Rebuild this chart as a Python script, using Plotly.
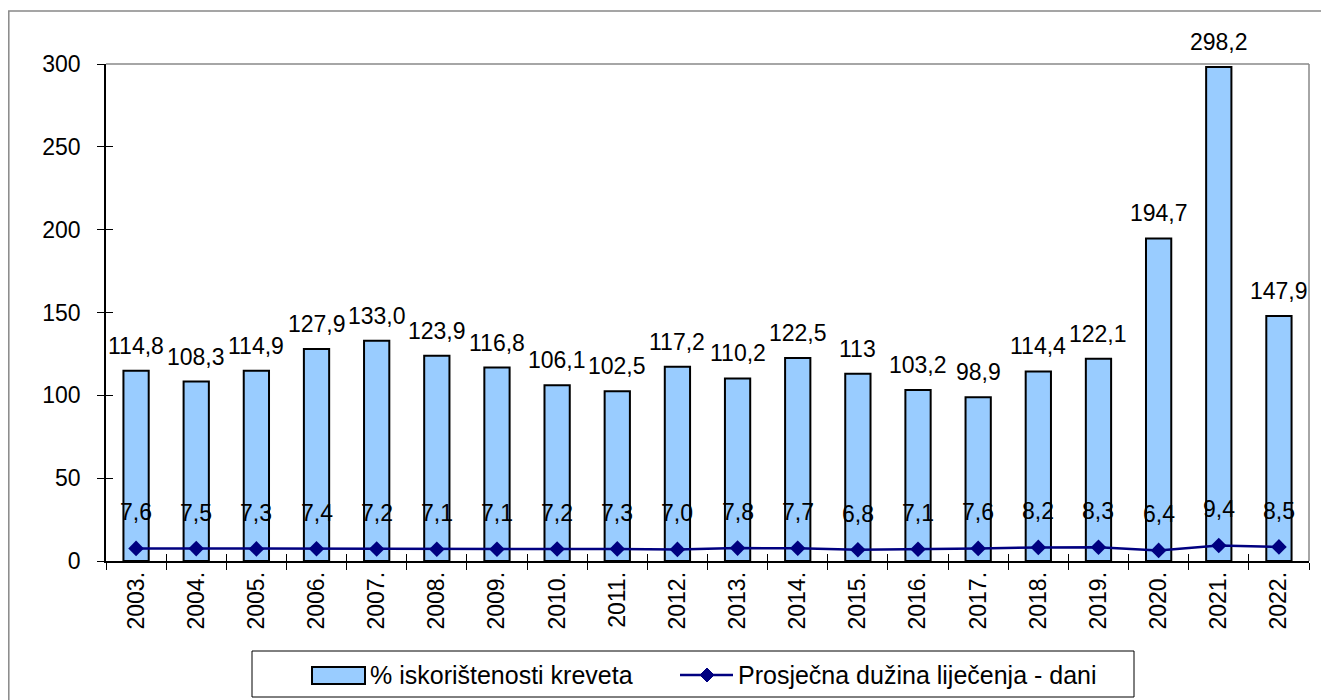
import plotly.graph_objects as go

years = ["2003.", "2004.", "2005.", "2006.", "2007.", "2008.", "2009.", "2010.", "2011.", "2012.",
         "2013.", "2014.", "2015.", "2016.", "2017.", "2018.", "2019.", "2020.", "2021.", "2022."]
occupancy = [114.8, 108.3, 114.9, 127.9, 133.0, 123.9, 116.8, 106.1, 102.5, 117.2,
             110.2, 122.5, 113, 103.2, 98.9, 114.4, 122.1, 194.7, 298.2, 147.9]
occupancy_labels = ["114,8", "108,3", "114,9", "127,9", "133,0", "123,9", "116,8", "106,1", "102,5", "117,2",
                    "110,2", "122,5", "113", "103,2", "98,9", "114,4", "122,1", "194,7", "298,2", "147,9"]
stay = [7.6, 7.5, 7.3, 7.4, 7.2, 7.1, 7.1, 7.2, 7.3, 7.0,
        7.8, 7.7, 6.8, 7.1, 7.6, 8.2, 8.3, 6.4, 9.4, 8.5]
stay_labels = ["7,6", "7,5", "7,3", "7,4", "7,2", "7,1", "7,1", "7,2", "7,3", "7,0",
               "7,8", "7,7", "6,8", "7,1", "7,6", "8,2", "8,3", "6,4", "9,4", "8,5"]
y_ticks = [0, 50, 100, 150, 200, 250, 300]
series_names = ["% iskorištenosti kreveta", "Prosječna dužina liječenja - dani"]

FONT = "Liberation Sans, Arial, sans-serif"
BAR_FILL = "#99CCFF"
LINE_COL = "#000080"

# page layout (page pixels; the page body has an 8px margin)
OFF = 8
PL, PR, PT, PB = 106, 1309, 64, 561
W, H = 1329 - OFF, 700 - OFF


def px(X):
    return (X - PL) / (PR - PL)


def py(Y):
    return (PB - Y) / (PB - PT)


fig = go.Figure()
fig.add_trace(go.Bar(
    x=years, y=occupancy, name=series_names[0],
    marker=dict(color=BAR_FILL, line=dict(color="black", width=2)),
    width=0.42,
))
fig.add_trace(go.Scatter(
    x=years, y=stay, name=series_names[1],
    mode="lines+markers",
    line=dict(color=LINE_COL, width=2.5),
    marker=dict(symbol="diamond", size=12, color=LINE_COL),
))
# bar value labels
for i, (v, lab) in enumerate(zip(occupancy, occupancy_labels)):
    fig.add_annotation(x=i, y=v, text=lab, showarrow=False, yanchor="bottom", yshift=10,
                       font=dict(size=23, color="black", family=FONT))
# line value labels
for i, (v, lab) in enumerate(zip(stay, stay_labels)):
    fig.add_annotation(x=i, y=v, text=lab, showarrow=False, yshift=36,
                       font=dict(size=23, color="black", family=FONT))

boundaries = [i - 0.5 for i in range(len(years) + 1)]

# outer chart border
fig.add_shape(type="rect", xref="paper", yref="paper", x0=px(8.8), x1=px(1340), y0=py(715), y1=py(11),
              line=dict(color="#888888", width=1.5), layer="below")
# plot area top/right border in grey
fig.add_shape(type="line", xref="paper", yref="paper", x0=0, x1=1, y0=1, y1=1,
              line=dict(color="#888888", width=1.5))
fig.add_shape(type="line", xref="paper", yref="paper", x0=1, x1=1, y0=0, y1=1,
              line=dict(color="#888888", width=1.5))

# legend (drawn manually)
fig.add_shape(type="rect", xref="paper", yref="paper", x0=px(252), x1=px(1134), y0=py(697), y1=py(651),
              line=dict(color="black", width=1), fillcolor="white")
fig.add_shape(type="rect", xref="paper", yref="paper", x0=px(312), x1=px(365), y0=py(684), y1=py(667),
              line=dict(color="black", width=2), fillcolor=BAR_FILL)
fig.add_annotation(xref="paper", yref="paper", x=px(368), y=py(675), xanchor="left", yanchor="middle",
                   text=series_names[0], showarrow=False, font=dict(size=25, family=FONT, color="black"))
fig.add_shape(type="line", xref="paper", yref="paper", x0=px(680), x1=px(733), y0=py(675), y1=py(675),
              line=dict(color=LINE_COL, width=2.5))
fig.add_shape(type="path", xref="paper", yref="paper",
              path=(f"M {px(700)},{py(675)} L {px(707)},{py(668)} L {px(714)},{py(675)} "
                    f"L {px(707)},{py(682)} Z"),
              line=dict(color=LINE_COL, width=1), fillcolor=LINE_COL)
fig.add_annotation(xref="paper", yref="paper", x=px(736), y=py(675), xanchor="left", yanchor="middle",
                   text=series_names[1], showarrow=False, font=dict(size=25, family=FONT, color="black"))

fig.update_layout(
    width=W, height=H,
    margin=dict(l=PL - OFF, r=W - (PR - OFF), t=PT - OFF, b=H - (PB - OFF), autoexpand=False),
    paper_bgcolor="white", plot_bgcolor="white",
    font=dict(family=FONT, size=23, color="black"),
    showlegend=False,
    xaxis=dict(type="category", range=[-0.5, 19.5], automargin=False,
               showline=True, linecolor="black", linewidth=1.5, mirror=False,
               ticks="outside", ticklen=7, tickcolor="black", tickwidth=1.2, tickson="boundaries",
               tickangle=-90, tickfont=dict(size=23), showgrid=False),
    xaxis2=dict(overlaying="x", anchor="y", side="bottom", range=[-0.5, 19.5],
                tickvals=boundaries, showticklabels=False, ticks="inside", ticklen=7,
                tickcolor="black", tickwidth=1.2, showgrid=False, showline=False, zeroline=False),
    yaxis=dict(range=[0, 300], tickvals=y_ticks, automargin=False,
               showline=True, linecolor="black", linewidth=1.5,
               ticks="outside", ticklen=7, tickcolor="black", tickwidth=1.2, showgrid=False,
               ticklabelstandoff=12,
               tickfont=dict(size=23), zeroline=False),
    yaxis2=dict(overlaying="y", anchor="x", side="left", range=[0, 300],
                tickvals=y_ticks, showticklabels=False, ticks="inside", ticklen=7,
                tickcolor="black", tickwidth=1.2, showgrid=False, showline=False, zeroline=False),
)
# dummy invisible trace to activate the overlay axes
fig.add_trace(go.Scatter(x=[None], y=[None], xaxis="x2", yaxis="y2", showlegend=False,
                         hoverinfo="skip"))

fig.write_html("out.html")
